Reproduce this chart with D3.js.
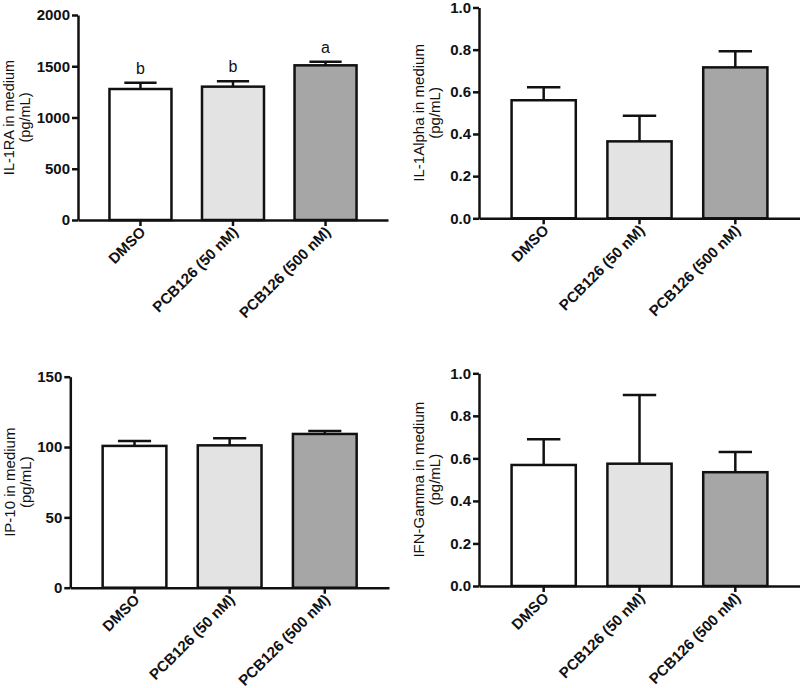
<!DOCTYPE html>
<html><head><meta charset="utf-8">
<script src="https://cdn.jsdelivr.net/npm/d3@7"></script>
<style>
body{margin:0;background:#fff;}
svg{display:block;}
</style></head>
<body>
<svg id="chart" width="800" height="688"></svg>
<script>
const categories = ["DMSO", "PCB126 (50 nM)", "PCB126 (500 nM)"];
const barColors = ["#ffffff", "#e3e3e3", "#a6a6a6"];

const il1raMean = [1278, 1301, 1509];
const il1raErr  = [1340, 1353, 1545];
const il1raLetters = ["b", "b", "a"];
const il1raTicks = [0, 500, 1000, 1500, 2000];

const il1aMean = [0.56, 0.365, 0.716];
const il1aErr  = [0.622, 0.486, 0.792];
const il1aTicks = [0.0, 0.2, 0.4, 0.6, 0.8, 1.0];

const ip10Mean = [100.8, 101.2, 109.3];
const ip10Err  = [104.3, 106.2, 111.4];
const ip10Ticks = [0, 50, 100, 150];

const ifngMean = [0.569, 0.575, 0.535];
const ifngErr  = [0.690, 0.898, 0.630];
const ifngTicks = [0.0, 0.2, 0.4, 0.6, 0.8, 1.0];

const panels = [
  {mean: il1raMean, err: il1raErr, letters: il1raLetters, ticks: il1raTicks, max: 2000, fmt: d3.format("d"),
   title: ["IL-1RA in medium", "(pg/mL)"], x0: 78, x1: 388, yTop: 15, yBot: 220, tx: [14, 29.5], tsize: 14.5},
  {mean: il1aMean, err: il1aErr, letters: null, ticks: il1aTicks, max: 1, fmt: d3.format(".1f"),
   title: ["IL-1Alpha in medium", "(pg/mL)"], x0: 479, x1: 800, yTop: 7.5, yBot: 218.3, tx: [424, 440], tsize: 15},
  {mean: ip10Mean, err: ip10Err, letters: null, ticks: ip10Ticks, max: 150, fmt: d3.format("d"),
   title: ["IP-10 in medium", "(pg/mL)"], x0: 70.3, x1: 389, yTop: 376.7, yBot: 587.7, tx: [15, 30.5], tsize: 15},
  {mean: ifngMean, err: ifngErr, letters: null, ticks: ifngTicks, max: 1, fmt: d3.format(".1f"),
   title: ["IFN-Gamma in medium", "(pg/mL)"], x0: 479, x1: 800, yTop: 373.3, yBot: 586, tx: [424, 440], tsize: 15}
];

const svg = d3.select("#chart");
const font = "'Liberation Sans', Arial, Helvetica, sans-serif";
const sw = 2.5;

panels.forEach(p => {
  const g = svg.append("g");
  const x = d3.scaleBand().domain(categories).range([p.x0, p.x1]).paddingInner(0.33).paddingOuter(0.34);
  const y = d3.scaleLinear().domain([0, p.max]).range([p.yBot, p.yTop]);
  const data = categories.map((c, i) => ({c, i, m: p.mean[i], e: p.err[i]}));

  // bars
  g.selectAll("rect.bar").data(data).join("rect")
    .attr("x", d => x(d.c)).attr("y", d => y(d.m))
    .attr("width", x.bandwidth()).attr("height", d => y(0) - y(d.m))
    .attr("fill", d => barColors[d.i]).attr("stroke", "#111").attr("stroke-width", sw);

  // error bars
  const cap = x.bandwidth() * 0.26;
  g.selectAll("line.ev").data(data).join("line")
    .attr("x1", d => x(d.c) + x.bandwidth()/2).attr("x2", d => x(d.c) + x.bandwidth()/2)
    .attr("y1", d => y(d.m)).attr("y2", d => y(d.e))
    .attr("stroke", "#111").attr("stroke-width", sw);
  g.selectAll("line.ec").data(data).join("line")
    .attr("x1", d => x(d.c) + x.bandwidth()/2 - cap).attr("x2", d => x(d.c) + x.bandwidth()/2 + cap)
    .attr("y1", d => y(d.e)).attr("y2", d => y(d.e))
    .attr("stroke", "#111").attr("stroke-width", sw);

  if (p.letters) {
    g.selectAll("text.let").data(data).join("text")
      .attr("x", d => x(d.c) + x.bandwidth()/2).attr("y", d => y(d.e) - 9)
      .attr("text-anchor", "middle").attr("font-family", font).attr("font-size", 16)
      .attr("fill", "#111").text(d => p.letters[d.i]);
  }

  // y axis
  const ya = g.append("g").attr("transform", `translate(${p.x0},0)`)
    .call(d3.axisLeft(y).tickValues(p.ticks).tickFormat(p.fmt).tickSize(6).tickPadding(2).tickSizeOuter(0));
  ya.select(".domain").attr("stroke", "#111").attr("stroke-width", sw);
  ya.selectAll(".tick line").attr("stroke", "#111").attr("stroke-width", sw);
  ya.selectAll(".tick text").attr("font-family", font).attr("font-size", 15).attr("font-weight", "bold").attr("fill", "#111");

  // x axis
  const xa = g.append("g").attr("transform", `translate(0,${p.yBot})`)
    .call(d3.axisBottom(x).tickSize(6).tickSizeOuter(0));
  xa.select(".domain").attr("stroke", "#111").attr("stroke-width", sw);
  xa.selectAll(".tick line").attr("stroke", "#111").attr("stroke-width", sw);
  xa.selectAll(".tick text")
    .attr("font-family", font).attr("font-size", 15).attr("font-weight", "bold").attr("fill", "#111")
    .attr("text-anchor", "end").attr("x", 0).attr("y", 0).attr("dy", 0)
    .attr("transform", "translate(6,13) rotate(-45)");

  // y title
  const cy = (p.yTop + p.yBot) / 2;
  p.title.forEach((t, k) => {
    g.append("text")
      .attr("transform", `translate(${p.tx[k]},${cy}) rotate(-90)`)
      .attr("text-anchor", "middle").attr("font-family", font).attr("font-size", p.tsize)
      .attr("fill", "#111").text(t);
  });
});
</script>
</body></html>
